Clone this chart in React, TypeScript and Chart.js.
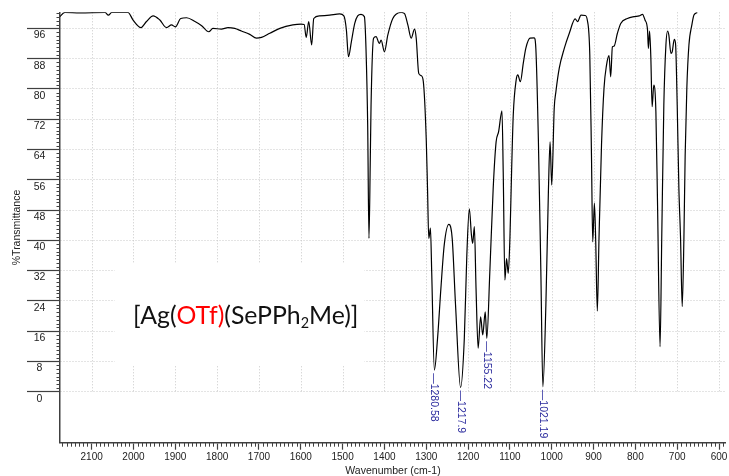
import React, { useEffect, useRef } from "react";
import { Chart, registerables } from "chart.js";

Chart.register(...registerables);

// ---- data ----
const wavenumber = [
  2176, 2164, 2128, 2068, 2060, 2052, 2013, 2001, 1982, 1969, 1953, 1937, 1921, 1909, 1900, 1887,
  1873, 1853, 1837, 1820, 1810, 1790, 1774, 1758, 1742, 1722, 1706, 1694, 1674, 1650, 1619, 1599,
  1592, 1587, 1581, 1574, 1569, 1555, 1531, 1507, 1497, 1491, 1486, 1479, 1471, 1464, 1456, 1448,
  1444, 1440, 1437, 1434, 1432, 1426, 1420, 1412, 1408, 1400, 1392, 1380, 1360, 1352, 1344, 1336,
  1328, 1324, 1318, 1312, 1307, 1300, 1297, 1294, 1290, 1287, 1280.58, 1273, 1265, 1257, 1246, 1238,
  1230, 1217.9, 1209, 1203, 1197, 1192, 1189, 1185, 1181, 1176, 1170, 1165, 1159, 1155.22, 1148, 1140,
  1133, 1127, 1119, 1116, 1112, 1108, 1104, 1100, 1096, 1092, 1085, 1081, 1075, 1068, 1062, 1052,
  1042, 1038, 1032, 1026, 1021.19, 1014, 1008, 1004, 1000, 994, 990, 982, 970, 958, 944, 938,
  930, 920, 915, 909, 905, 902, 898, 895, 891, 887, 881, 875, 869, 863, 859, 855,
  851, 843, 835, 819, 803, 791, 783, 777, 771, 769, 766, 763, 760, 756, 751, 747,
  741, 737, 732, 727, 723, 720, 715, 712, 707, 704, 700, 696, 692, 688, 684, 681,
  677, 672, 665, 660, 652,
];

const transmittance = [
  99.1, 100.2, 100.1, 100.2, 99.5, 100.2, 100.2, 98.2, 96.2, 97.8, 99.3, 98.2, 96.2, 96.9, 96.4, 98.6,
  98.8, 97.8, 96.7, 95.1, 96.0, 95.8, 96.2, 96.0, 95.3, 94.4, 93.4, 93.6, 94.7, 96.0, 96.9, 97.1,
  97.0, 93.6, 97.8, 91.6, 98.6, 99.3, 99.5, 99.8, 99.3, 95.6, 88.5, 92.5, 97.3, 99.3, 99.7, 99.1,
  90.3, 70.0, 40.5, 60.0, 75.7, 93.4, 93.8, 92.0, 92.9, 89.8, 94.2, 98.6, 100.2, 99.9, 96.9, 93.4,
  95.8, 93.4, 84.1, 83.5, 81.9, 66.5, 53.7, 40.5, 43.2, 31.7, 5.7, 14.1, 27.3, 38.8, 44.2, 40.5,
  22.9, 1.1, 14.1, 36.1, 48.3, 41.4, 39.2, 43.6, 27.3, 11.5, 19.8, 15.0, 21.1, 14.1, 31.7, 53.7,
  66.0, 68.7, 74.2, 58.1, 29.5, 35.2, 31.3, 40.5, 58.1, 73.1, 82.4, 83.7, 81.9, 86.8, 90.7, 93.4,
  93.5, 90.7, 66.9, 31.7, 1.3, 22.9, 52.8, 66.0, 54.6, 75.0, 79.3, 85.5, 90.7, 94.7, 98.5, 97.8,
  99.5, 99.4, 98.2, 89.0, 62.5, 39.6, 49.8, 40.5, 21.3, 40.5, 65.2, 80.2, 86.3, 88.8, 83.2, 91.1,
  91.3, 94.7, 97.3, 98.6, 99.1, 99.3, 99.7, 98.2, 95.6, 90.7, 95.3, 88.1, 75.3, 81.0, 74.0, 49.3,
  11.9, 40.5, 75.7, 91.6, 95.3, 94.2, 89.4, 89.8, 93.1, 92.0, 75.7, 53.7, 40.5, 22.5, 40.5, 62.5,
  80.2, 91.6, 96.9, 99.5, 100.2,
];

const xTickValues = [2100, 2000, 1900, 1800, 1700, 1600, 1500, 1400, 1300, 1200, 1100, 1000, 900, 800, 700, 600];
const yTickValues = [0, 8, 16, 24, 32, 40, 48, 56, 64, 72, 80, 88, 96];

const peakWavenumbers = [1280.58, 1217.9, 1155.22, 1021.19];
const peakLabels = ["1280.58", "1217.9", "1155.22", "1021.19"];

const compoundParts = [
  { text: "[Ag(", color: "#111111", sub: false },
  { text: "OTf)", color: "#ff0000", sub: false },
  { text: "(SePPh", color: "#111111", sub: false },
  { text: "2", color: "#111111", sub: true },
  { text: "Me)]", color: "#111111", sub: false },
];

const FONT = "'Liberation Sans', Arial, sans-serif";
const AXIS_COLOR = "#404040";
const TEXT_COLOR = "#222222";

const decorPlugin = {
  id: "decor",
  beforeDatasetsDraw(chart: any) {
    const { ctx, chartArea, scales } = chart;
    const x = scales.x;
    const y = scales.y;
    const y0 = y.getPixelForValue(0);
    // vertical dotted grid lines (only above 0 %T)
    ctx.save();
    ctx.strokeStyle = "#c8c8c8";
    ctx.lineWidth = 1;
    ctx.setLineDash([1, 2]);
    for (const v of xTickValues) {
      const px = Math.round(x.getPixelForValue(v)) + 0.5;
      ctx.beginPath();
      ctx.moveTo(px, chartArea.top);
      ctx.lineTo(px, y0);
      ctx.stroke();
    }
    ctx.restore();
    // white background behind compound label
    ctx.save();
    ctx.fillStyle = "#ffffff";
    const bx1 = x.getPixelForValue(2045);
    const bx2 = x.getPixelForValue(1448);
    const by1 = y.getPixelForValue(34);
    const by2 = y.getPixelForValue(7);
    ctx.fillRect(bx1, by1, bx2 - bx1, by2 - by1);
    ctx.restore();
  },
  afterDraw(chart: any) {
    const { ctx, chartArea, scales } = chart;
    const x = scales.x;
    const y = scales.y;
    // minor ticks
    ctx.save();
    ctx.strokeStyle = AXIS_COLOR;
    ctx.lineWidth = 1;
    ctx.beginPath();
    for (let v = 590; v <= 2170; v += 10) {
      if (v % 100 === 0) continue;
      const px = Math.round(x.getPixelForValue(v)) + 0.5;
      ctx.moveTo(px, chartArea.bottom);
      ctx.lineTo(px, chartArea.bottom + 4);
    }
    for (let t = 1; t <= 100; t++) {
      if (t % 8 === 0) continue;
      const py = Math.round(y.getPixelForValue(t)) + 0.5;
      ctx.moveTo(chartArea.left - 3.5, py);
      ctx.lineTo(chartArea.left, py);
    }
    ctx.stroke();
    ctx.restore();

    // peak labels
    ctx.save();
    ctx.fillStyle = "#28289c";
    ctx.font = `10.5px ${FONT}`;
    ctx.textAlign = "left";
    ctx.textBaseline = "middle";
    peakWavenumbers.forEach((wn, i) => {
      let minT = Infinity;
      wavenumber.forEach((w, j) => {
        if (Math.abs(w - wn) < 3 && transmittance[j] < minT) minT = transmittance[j];
      });
      const px = x.getPixelForValue(wn);
      const py = y.getPixelForValue(minT) + 3;
      ctx.save();
      ctx.translate(px, py);
      ctx.rotate(Math.PI / 2);
      ctx.fillText("\u2014" + peakLabels[i], 0, 0);
      ctx.restore();
    });
    ctx.restore();

    // compound label
    ctx.save();
    const left = x.getPixelForValue(2001);
    const right = x.getPixelForValue(1462);
    const base = y.getPixelForValue(18);
    const fam = "Lato, 'Open Sans', sans-serif";
    let total = 0;
    for (const p of compoundParts) {
      ctx.font = `${p.sub ? 58 : 100}px ${fam}`;
      total += ctx.measureText(p.text).width;
    }
    const size = (100 * (right - left)) / total;
    let cx = left;
    ctx.textAlign = "left";
    ctx.textBaseline = "alphabetic";
    for (const p of compoundParts) {
      const s = p.sub ? size * 0.58 : size;
      ctx.font = `${s}px ${fam}`;
      ctx.fillStyle = p.color;
      ctx.fillText(p.text, cx, p.sub ? base + size * 0.16 : base);
      cx += ctx.measureText(p.text).width;
    }
    ctx.restore();
  },
};

export default function App() {
  const canvasRef = useRef<HTMLCanvasElement | null>(null);

  useEffect(() => {
    const canvas = canvasRef.current;
    if (!canvas) return;
    const chart = new Chart(canvas, {
      type: "line",
      data: {
        datasets: [
          {
            data: wavenumber.map((w, i) => ({ x: w, y: transmittance[i] })),
            borderColor: "#000000",
            borderWidth: 1.2,
            pointRadius: 0,
            fill: false,
            cubicInterpolationMode: "monotone",
          },
        ],
      },
      options: {
        responsive: false,
        animation: false,
        devicePixelRatio: 1,
        events: [],
        layout: { padding: { top: 12.3, right: 2, left: 0, bottom: 0 } },
        plugins: { legend: { display: false }, tooltip: { enabled: false }, title: { display: false } },
        scales: {
          x: {
            type: "linear",
            reverse: true,
            min: 583.4,
            max: 2175.7,
            afterBuildTicks: (s: any) => {
              s.ticks = xTickValues.map((v) => ({ value: v }));
            },
            afterFit: (s: any) => {
              s.height = 33.3;
            },
            grid: {
              drawOnChartArea: false,
              drawTicks: true,
              tickLength: 7,
              tickColor: AXIS_COLOR,
              tickWidth: 1.2,
            },
            border: { display: true, color: AXIS_COLOR, width: 1.5 },
            ticks: {
              color: TEXT_COLOR,
              font: { family: FONT, size: 10 },
              padding: 1.6,
              maxRotation: 0,
              autoSkip: false,
              callback: (v: any) => String(v),
            },
            title: {
              display: true,
              text: "Wavenumber (cm-1)",
              color: TEXT_COLOR,
              font: { family: FONT, size: 10.5, lineHeight: 1 },
              padding: { top: 0, bottom: 0 },
            },
          },
          y: {
            type: "linear",
            min: -13.47,
            max: 100.24,
            afterBuildTicks: (s: any) => {
              s.ticks = yTickValues.map((v) => ({ value: v }));
            },
            afterFit: (s: any) => {
              s.width = 60;
            },
            grid: {
              color: "#c8c8c8",
              lineWidth: 1,
              drawTicks: true,
              tickLength: 33,
              tickColor: AXIS_COLOR,
              tickWidth: 1.2,
            },
            border: { display: true, color: AXIS_COLOR, width: 1.5, dash: [1, 2] },
            ticks: {
              color: TEXT_COLOR,
              font: { family: FONT, size: 10.5 },
              padding: -18.35,
              crossAlign: "center",
              labelOffset: 7,
              autoSkip: false,
              callback: (v: any) => String(v),
            },
            title: {
              display: true,
              text: "%Transmittance",
              color: TEXT_COLOR,
              font: { family: FONT, size: 10.5, lineHeight: 1 },
              padding: { top: 12.25, bottom: 0 },
            },
          },
        },
      } as any,
      plugins: [decorPlugin],
    });
    return () => chart.destroy();
  }, []);

  return (
    <div style={{ position: "absolute", left: 0, top: 0, width: 729, height: 476, background: "#fff" }}>
      <canvas ref={canvasRef} width={729} height={476} style={{ display: "block", width: 729, height: 476 }} />
    </div>
  );
}
